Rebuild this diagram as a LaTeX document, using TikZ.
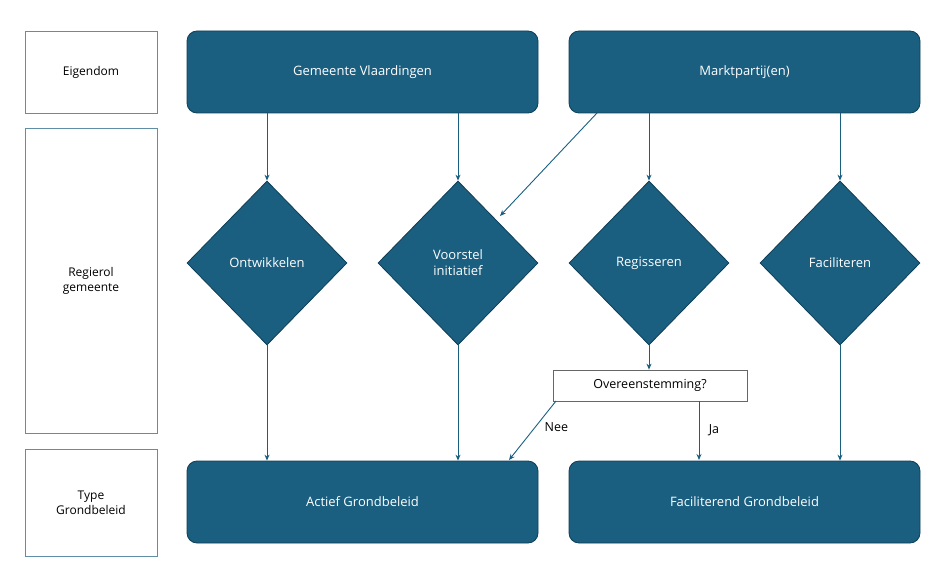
\documentclass[tikz,border=0pt]{standalone}
\usepackage{fontspec}
\setmainfont{Open Sans}
\usetikzlibrary{shapes.geometric,arrows.meta}
\definecolor{teal}{HTML}{1A5E80}
\definecolor{edge}{HTML}{0E3F57}
\begin{document}
\begin{tikzpicture}[x=1pt,y=-1pt,
 lab/.style={draw=teal!70,line width=0.6pt,minimum width=132pt,align=center,font=\fontsize{12}{15}\selectfont,inner sep=0pt},
 big/.style={fill=teal,draw=edge,line width=0.8pt,rounded corners=10pt,minimum width=351pt,minimum height=82pt,text=white,font=\fontsize{13}{16}\selectfont,inner sep=0pt},
 dia/.style={diamond,fill=teal,draw=edge,line width=0.8pt,minimum width=160pt,minimum height=164pt,aspect=1,text=white,align=center,font=\fontsize{13}{16}\selectfont,inner sep=0pt},
 ar/.style={draw=teal,line width=0.9pt,-{Stealth[length=6pt,width=5pt]}},
 txt/.style={font=\fontsize{12.5}{15}\selectfont}]
\useasboundingbox (0,0) rectangle (941,564);
\node[lab,minimum height=82pt] (l1) at (91,72) {Eigendom};
\node[lab,minimum height=305pt] (l2) at (91,280.5) {Regierol\\gemeente};
\node[lab,minimum height=107pt] (l3) at (91,502.5) {Type\\Grondbeleid};
\node[big] (gv) at (362.5,72) {Gemeente Vlaardingen};
\node[big] (mp) at (744.5,72) {Marktpartij(en)};
\node[big] (ag) at (362.5,502) {Actief Grondbeleid};
\node[big] (fg) at (744.5,502) {Faciliterend Grondbeleid};
\node[dia] (d1) at (267,263) {Ontwikkelen};
\node[dia] (d2) at (458,263) {Voorstel\\initiatief};
\node[dia] (d3) at (649,263) {Regisseren};
\node[dia] (d4) at (840,263) {Faciliteren};
\node[draw=black!60,fill=white,line width=0.7pt,minimum width=194pt,minimum height=31pt,inner sep=0pt,txt] (ov) at (650,385.5) {Overeenstemming?};
\coordinate (a1) at (267,113); \coordinate (a2) at (458,113);
\draw[ar] (gv.south -| d1) -- (d1.north);
\draw[ar] (gv.south -| d2) -- (d2.north);
\draw[ar] (597,113) -- (500,216);
\draw[ar] (mp.south -| d3) -- (d3.north);
\draw[ar] (mp.south -| d4) -- (d4.north);
\draw[ar] (d1.south) -- (ag.north -| d1);
\draw[ar] (d2.south) -- (ag.north -| d2);
\draw[ar] (d3.south) -- (ov.north -| d3);
\draw[ar] (d4.south) -- (fg.north -| d4);
\draw[ar] (556,401) -- node[pos=0.45,right=6pt,txt]{Nee} (509,460);
\draw[ar] (699,401) -- node[right=6pt,txt]{Ja} (699,460);
\end{tikzpicture}
\end{document}
